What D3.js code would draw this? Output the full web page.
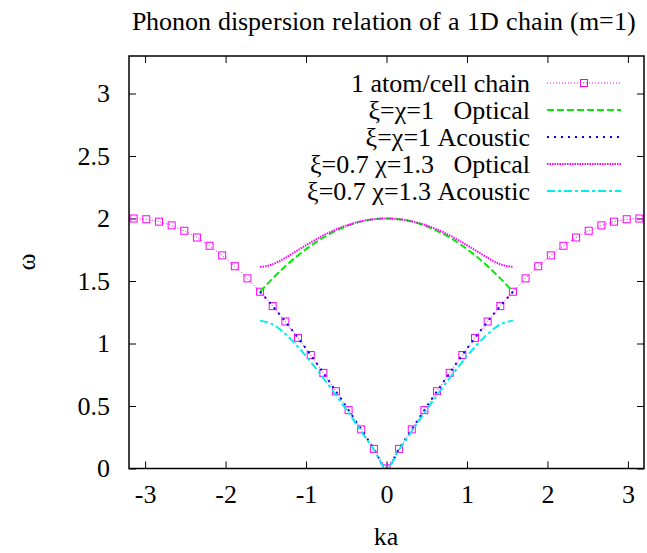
<!DOCTYPE html>
<html>
<head>
<meta charset="utf-8">
<script src="https://cdn.jsdelivr.net/npm/d3@7"></script>
<style>
  @font-face { font-family: "ChartSerif"; src: local("Liberation Serif"), local("LiberationSerif"), local("LiberationSerif-Regular"), local("Tinos"), local("Times New Roman"); }
</style>
</head>
<body style="margin:0">
<div id="chart"></div>
<script>
// ka grid for the monatomic chain, -pi .. pi in steps of pi/20
const kaFull = [-3.142, -2.985, -2.827, -2.670, -2.513, -2.356, -2.199, -2.042, -1.885, -1.728,
  -1.571, -1.414, -1.257, -1.100, -0.942, -0.785, -0.628, -0.471, -0.314, -0.157,
  0, 0.157, 0.314, 0.471, 0.628, 0.785, 0.942, 1.100, 1.257, 1.414,
  1.571, 1.728, 1.885, 2.042, 2.199, 2.356, 2.513, 2.670, 2.827, 2.985, 3.142];
const omegaChain = [2.000, 1.994, 1.975, 1.945, 1.902, 1.848, 1.782, 1.705, 1.618, 1.521,
  1.414, 1.299, 1.176, 1.045, 0.908, 0.765, 0.618, 0.467, 0.313, 0.157,
  0, 0.157, 0.313, 0.467, 0.618, 0.765, 0.908, 1.045, 1.176, 1.299,
  1.414, 1.521, 1.618, 1.705, 1.782, 1.848, 1.902, 1.945, 1.975, 1.994, 2.000];

// ka grid for the two-spring chain, -pi/2 .. pi/2
const kaHalf = [-1.571, -1.414, -1.257, -1.100, -0.942, -0.785, -0.628, -0.471, -0.314, -0.157,
  0, 0.157, 0.314, 0.471, 0.628, 0.785, 0.942, 1.100, 1.257, 1.414, 1.571];
const optEqual = [1.414, 1.521, 1.618, 1.705, 1.782, 1.848, 1.902, 1.945, 1.975, 1.994,
  2.000, 1.994, 1.975, 1.945, 1.902, 1.848, 1.782, 1.705, 1.618, 1.521, 1.414];
const acuEqual = [1.414, 1.299, 1.176, 1.045, 0.908, 0.765, 0.618, 0.467, 0.313, 0.157,
  0, 0.157, 0.313, 0.467, 0.618, 0.765, 0.908, 1.045, 1.176, 1.299, 1.414];
const optUneq = [1.612, 1.634, 1.686, 1.747, 1.809, 1.865, 1.912, 1.950, 1.978, 1.994,
  2.000, 1.994, 1.978, 1.950, 1.912, 1.865, 1.809, 1.747, 1.686, 1.634, 1.612];
const acuUneq = [1.183, 1.153, 1.076, 0.973, 0.853, 0.724, 0.587, 0.444, 0.298, 0.150,
  0, 0.150, 0.298, 0.444, 0.587, 0.724, 0.853, 0.973, 1.076, 1.153, 1.183];

const xTicks = [-3, -2, -1, 0, 1, 2, 3];
const yTicks = [0, 0.5, 1, 1.5, 2, 2.5, 3];

const series = [
  { name: "1 atom/cell chain", ka: kaFull, w: omegaChain, color: "#ff00ff", dash: "1,2", width: 1, marker: true },
  { name: "\u03be=\u03c7=1   Optical", ka: kaHalf, w: optEqual, color: "#00ee00", dash: "7,3", width: 2 },
  { name: "\u03be=\u03c7=1 Acoustic", ka: kaHalf, w: acuEqual, color: "#0000ff", dash: "2,5", width: 2 },
  { name: "\u03be=0.7 \u03c7=1.3   Optical", ka: kaHalf, w: optUneq, color: "#ff00ff", dash: "1.5,1", width: 2 },
  { name: "\u03be=0.7 \u03c7=1.3 Acoustic", ka: kaHalf, w: acuUneq, color: "#00eeee", dash: "8,3,3,3", width: 2 }
];

const width = 647, height = 553;
const fontSize = 26;
const plot = { left: 129, right: 644, top: 56, bottom: 468.5 };
const tick = 7;

const svg = d3.select("#chart").append("svg")
  .attr("width", width)
  .attr("height", height);

const x = d3.scaleLinear().domain([-3.2, 3.2]).range([plot.left, plot.right]);
const y = d3.scaleLinear().domain([0, 3.3]).range([plot.bottom, plot.top]);

svg.append("defs").append("clipPath").attr("id", "clip")
  .append("rect")
  .attr("x", plot.left).attr("y", plot.top)
  .attr("width", plot.right - plot.left).attr("height", plot.bottom - plot.top);

// each text group tries a different route to a serif face
const serif = fam => t => t
  .attr("font-family", fam)
  .attr("font-size", fontSize)
  .attr("fill", "#000");

const styleAxis = g => {
  g.select(".domain").remove();
  g.attr("font-family", null).attr("font-size", null);
  g.selectAll("line").attr("stroke", "#000").attr("stroke-width", 1);
  g.selectAll("text").call(serif("'Times New Roman', monospace"));
};

svg.append("g")
  .attr("transform", `translate(0,${plot.bottom})`)
  .call(d3.axisBottom(x).tickValues(xTicks).tickSize(-tick).tickPadding(16).tickFormat(d => String(d)))
  .call(styleAxis);
svg.append("g")
  .attr("transform", `translate(0,${plot.top})`)
  .call(d3.axisTop(x).tickValues(xTicks).tickSize(-tick).tickFormat(""))
  .call(styleAxis);
svg.append("g")
  .attr("transform", `translate(${plot.left},0)`)
  .call(d3.axisLeft(y).tickValues(yTicks).tickSize(-tick).tickPadding(19).tickFormat(d => String(d)))
  .call(styleAxis);
svg.append("g")
  .attr("transform", `translate(${plot.right},0)`)
  .call(d3.axisRight(y).tickValues(yTicks).tickSize(-tick).tickFormat(""))
  .call(styleAxis);

// curves
const body = svg.append("g").attr("clip-path", "url(#clip)");
const line = d3.line()
  .x(d => x(d[0]))
  .y(d => y(d[1]));

series.forEach(s => {
  const pts = s.ka.map((k, i) => [k, s.w[i]]);
  body.append("path")
    .datum(pts)
    .attr("fill", "none")
    .attr("stroke", s.color)
    .attr("stroke-width", s.width)
    .attr("stroke-dasharray", s.dash)
    .attr("d", line.curve(s.marker ? d3.curveLinear : d3.curveMonotoneX)(pts));
  if (s.marker) {
    body.selectAll(null)
      .data(pts)
      .enter()
      .append("rect")
      .attr("x", d => x(d[0]) - 3.5)
      .attr("y", d => y(d[1]) - 3.5)
      .attr("width", 7)
      .attr("height", 7)
      .attr("fill", "none")
      .attr("stroke", s.color)
      .attr("stroke-width", 1);
  }
});

// border
svg.append("rect")
  .attr("x", plot.left).attr("y", plot.top)
  .attr("width", plot.right - plot.left).attr("height", plot.bottom - plot.top)
  .attr("fill", "none")
  .attr("stroke", "#000")
  .attr("stroke-width", 1.5);

// legend
const legend = svg.append("g");
series.forEach((s, i) => {
  const ly = 83 + i * 27;
  legend.append("text")
    .call(serif("Tinos, monospace"))
    .attr("x", 530)
    .attr("y", ly)
    .attr("dy", "0.35em")
    .attr("text-anchor", "end")
    .style("white-space", "pre")
    .text(s.name);
  legend.append("line")
    .attr("x1", 547).attr("x2", 621)
    .attr("y1", ly).attr("y2", ly)
    .attr("stroke", s.color)
    .attr("stroke-width", s.width)
    .attr("stroke-dasharray", s.dash);
  if (s.marker) {
    legend.append("rect")
      .attr("x", 584 - 3.5).attr("y", ly - 3.5)
      .attr("width", 7).attr("height", 7)
      .attr("fill", "none")
      .attr("stroke", s.color);
  }
});

// titles
svg.append("text")
  .call(serif("ChartSerif, monospace"))
  .attr("x", 384)
  .attr("y", 30)
  .attr("text-anchor", "middle")
  .text("Phonon dispersion relation of a 1D chain (m=1)");
svg.append("text")
  .call(serif("'Liberation Serif', monospace"))
  .attr("x", 386)
  .attr("y", 545)
  .attr("text-anchor", "middle")
  .text("ka");
svg.append("text")
  .call(serif("'Liberation Serif', monospace"))
  .attr("transform", "translate(26,262) rotate(-90)")
  .attr("text-anchor", "middle")
  .attr("dy", "0.35em")
  .text("\u03c9");
</script>
</body>
</html>
